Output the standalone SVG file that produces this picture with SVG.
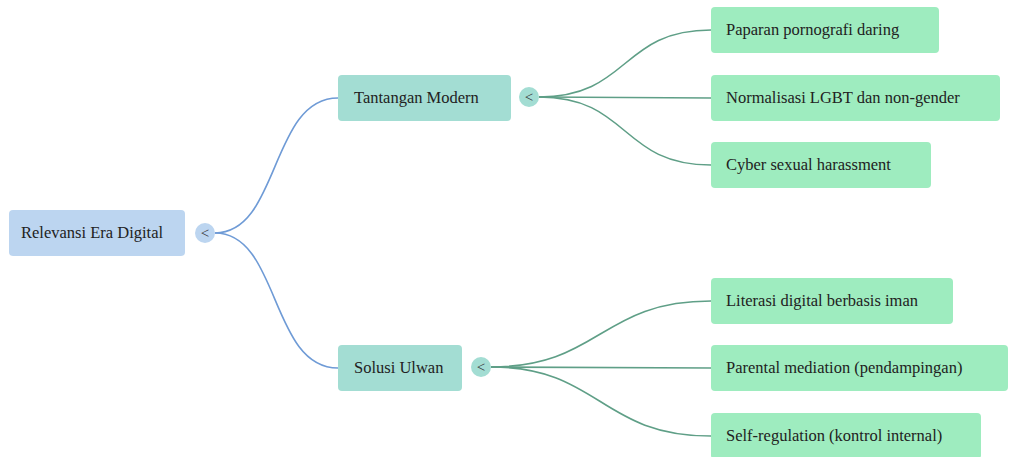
<svg xmlns="http://www.w3.org/2000/svg" width="1009" height="457" viewBox="0 0 1009 457" font-family="Liberation Serif, Times New Roman, Times, serif">
<style>
text{font-size:16.5px;fill:#222;}
.root{fill:#bcd5f0;}
.mid{fill:#a3ddd3;}
.leaf{fill:#9eecbf;}
.c1{fill:none;stroke:#6f9bd6;stroke-width:1.6;}
.c2{fill:none;stroke:#5f9f87;stroke-width:1.6;}
.tog{font-size:15px;text-anchor:middle;fill:#333;}
</style>
<rect width="1009" height="457" fill="#ffffff"/>
<g id="connectors">
<path class="c1" d="M215,233 C280,233 270,98 338,98"/>
<path class="c1" d="M215,233 C280,233 270,368 338,368"/>
<path class="c2" d="M539,97 C630,97 620,30 711,30"/>
<path class="c2" d="M539,97 L711,98"/>
<path class="c2" d="M539,97 C630,97 620,165 711,165"/>
<path class="c2" d="M491,367 C600,367 600,301 711,301"/>
<path class="c2" d="M491,367 L711,368"/>
<path class="c2" d="M491,367 C600,367 600,436 711,436"/>
</g>
<g id="root">
<rect class="root" x="9" y="210" width="176" height="46" rx="4"/>
<text x="21" y="238">Relevansi Era Digital</text>
<circle class="root" cx="205" cy="233" r="10"/>
<text class="tog" x="205" y="238">&lt;</text>
</g>
<g id="tantangan">
<rect class="mid" x="338" y="75" width="173" height="46" rx="4"/>
<text x="354" y="103">Tantangan Modern</text>
<circle class="mid" cx="529" cy="97" r="10"/>
<text class="tog" x="529" y="102">&lt;</text>
</g>
<g id="solusi">
<rect class="mid" x="338" y="345" width="124" height="46" rx="4"/>
<text x="354" y="373">Solusi Ulwan</text>
<circle class="mid" cx="481" cy="367" r="10"/>
<text class="tog" x="481" y="372">&lt;</text>
</g>
<g id="leaf1">
<rect class="leaf" x="711" y="7" width="228" height="46" rx="4"/>
<text x="726" y="35">Paparan pornografi daring</text>
</g>
<g id="leaf2">
<rect class="leaf" x="711" y="75" width="289" height="46" rx="4"/>
<text x="726" y="103">Normalisasi LGBT dan non-gender</text>
</g>
<g id="leaf3">
<rect class="leaf" x="711" y="142" width="220" height="46" rx="4"/>
<text x="726" y="170">Cyber sexual harassment</text>
</g>
<g id="leaf4">
<rect class="leaf" x="711" y="278" width="242" height="46" rx="4"/>
<text x="726" y="306">Literasi digital berbasis iman</text>
</g>
<g id="leaf5">
<rect class="leaf" x="711" y="345" width="297" height="46" rx="4"/>
<text x="726" y="373">Parental mediation (pendampingan)</text>
</g>
<g id="leaf6">
<rect class="leaf" x="711" y="413" width="270" height="46" rx="4"/>
<text x="726" y="441">Self-regulation (kontrol internal)</text>
</g>
</svg>
